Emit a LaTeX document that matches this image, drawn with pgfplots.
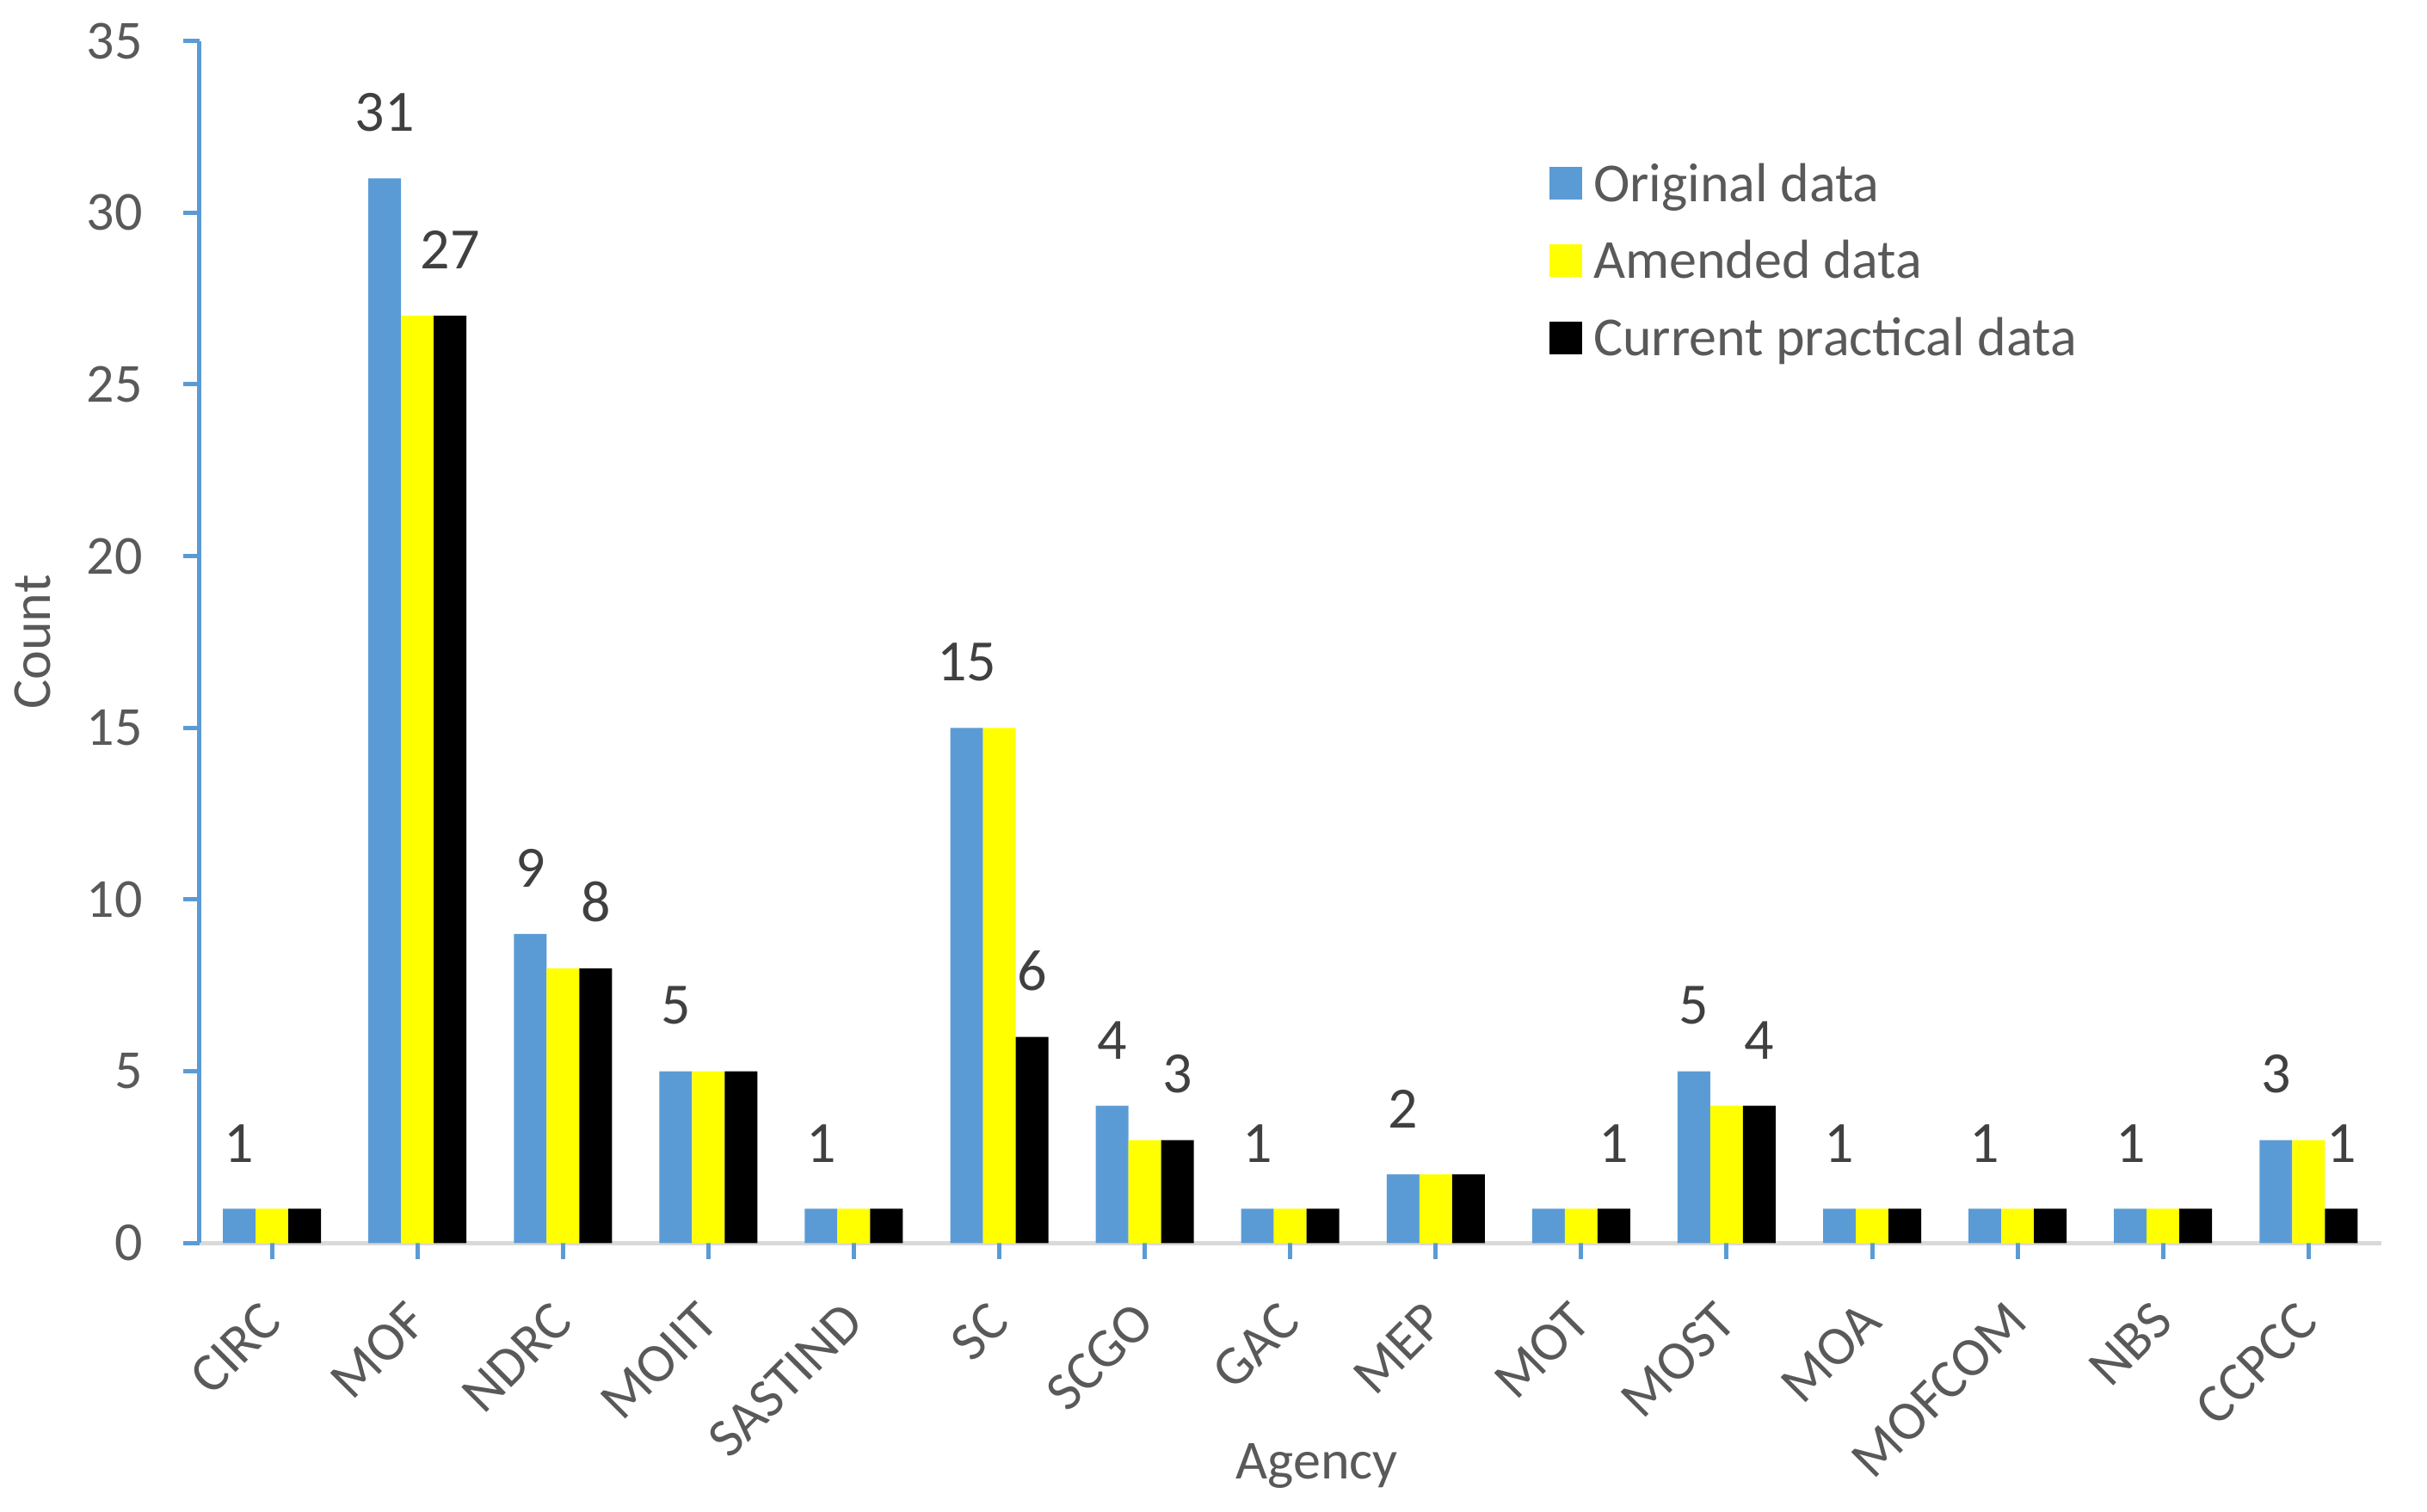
\documentclass[border=0pt]{standalone}
\usepackage{fontspec}
\setmainfont{Carlito}
\usepackage{pgfplots}
\pgfplotsset{compat=1.18}
\definecolor{barblue}{HTML}{5B9BD5}
\definecolor{baryellow}{HTML}{FFFF00}
\definecolor{axgray}{HTML}{D9D9D9}
\definecolor{txtgray}{HTML}{595959}
\definecolor{lblgray}{HTML}{404040}
\newcommand{\sixteen}{\fontsize{16}{19.2}\selectfont}
\newcommand{\seventeen}{\fontsize{17}{20.4}\selectfont}

\begin{document}
\begin{tikzpicture}
\useasboundingbox (-57.9pt,-78.1pt) rectangle (647.5pt,361.4pt);
\begin{axis}[
  at={(0,0)}, anchor=south west,
  scale only axis,
  width=634.2pt, height=349.5pt,
  ybar=0pt, bar width=9.5pt,
  xmin=-0.5, xmax=14.5, ymin=0, ymax=35,
  axis x line*=bottom, axis y line*=left,
  x axis line style={draw=axgray, line width=1.25pt, -},
  y axis line style={draw=barblue, line width=1.4pt, -},
  xtick=\empty,
  minor xtick={-0.5,0.5,...,14.5},
  extra x ticks={0,...,14},
  extra x tick labels={CIRC,MOF,NDRC,MOIIT,SASTIND,SC,SCGO,GAC,MEP,MOT,MOST,MOA,MOFCOM,NBS,CCPCC},
  extra x tick style={tick style={draw=none}},
  ytick={0,5,...,35},
  tick align=outside,
  major tick length=4.75pt, minor tick length=4.3pt,
  minor tick style={draw=axgray, line width=1.25pt},
  major tick style={draw=barblue, line width=1.25pt},
  ticklabel style={font=\sixteen, text=txtgray},
  /pgf/number format/assume math mode=true,
  xticklabel style={inner sep=0pt, xshift=-3.9pt, yshift=-11.35pt, rotate=45, anchor=north east},
  yticklabel style={inner sep=0pt, anchor=east, xshift=-11.5pt},
  ylabel={Count}, xlabel={Agency},
  label style={font=\sixteen, text=txtgray},
  ylabel style={at={(axis description cs:-0.0763,0.5)}, anchor=center},
  xlabel style={at={(axis description cs:0.5122,-0.196)}, anchor=base},
  legend style={at={(rel axis cs:0.6186,0.9046)}, anchor=north west, draw=none, fill=none,
    inner sep=0pt, font=\sixteen, text=txtgray, row sep=5.85pt,
    /tikz/every odd column/.append style={column sep=1.2pt}},
  legend cell align=left,
  legend image code/.code={\fill[#1] (0pt,-4.3pt) rectangle (9.5pt,5.2pt);},
  every node near coord/.append style={font=\seventeen, text=lblgray, anchor=south, inner sep=0pt, yshift=13.35pt},
]
% Original data
\addplot[fill=barblue, draw=none, nodes near coords, point meta=explicit symbolic] coordinates {
  (0,1) [1] (1,31) [31] (2,9) [9] (3,5) [5] (4,1) [1] (5,15) [15] (6,4) [4] (7,1) [1]
  (8,2) [2] (9,1) [] (10,5) [5] (11,1) [1] (12,1) [1] (13,1) [1] (14,3) [3]
};
% Amended data
\addplot[fill=baryellow, draw=none] coordinates {
  (0,1) (1,27) (2,8) (3,5) (4,1) (5,15) (6,3) (7,1)
  (8,2) (9,1) (10,4) (11,1) (12,1) (13,1) (14,3)
};
% Current practical data
\addplot[fill=black, draw=none, nodes near coords, point meta=explicit symbolic] coordinates {
  (0,1) [] (1,27) [27] (2,8) [8] (3,5) [] (4,1) [] (5,6) [6] (6,3) [3] (7,1) []
  (8,2) [] (9,1) [1] (10,4) [4] (11,1) [] (12,1) [] (13,1) [] (14,1) [1]
};
\legend{Original data, Amended data, Current practical data}
\end{axis}
\end{tikzpicture}
\end{document}
